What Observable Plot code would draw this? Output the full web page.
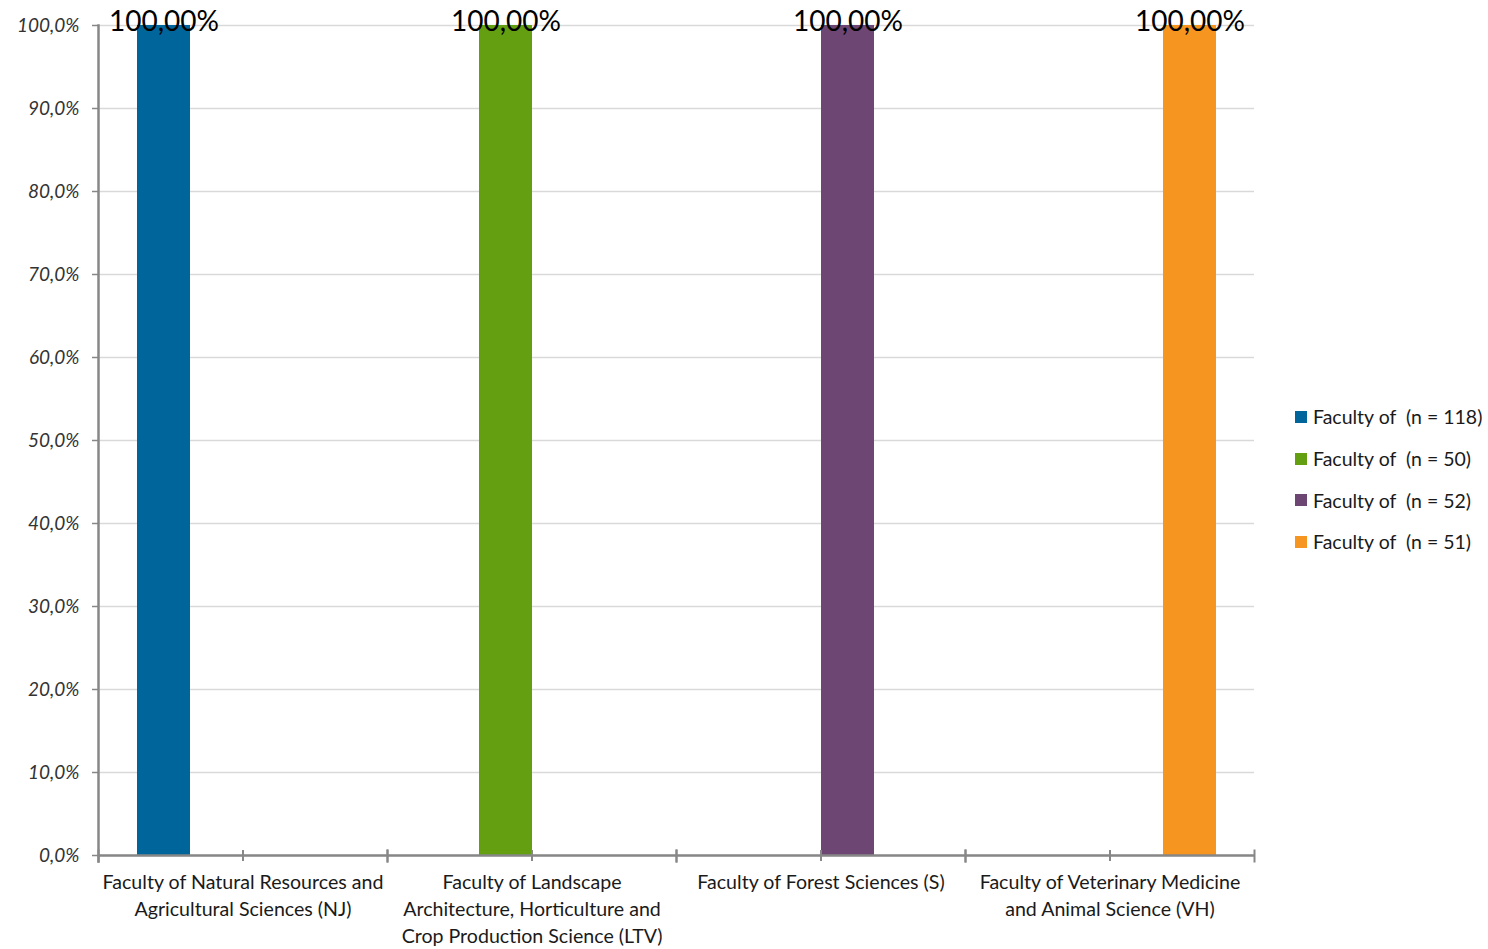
<!DOCTYPE html>
<html><head><meta charset="utf-8">
<script src="https://cdn.jsdelivr.net/npm/d3@7"></script>
<script src="https://cdn.jsdelivr.net/npm/@observablehq/plot@0.6"></script>
<style>
body{margin:0;background:#fff;font-family:Lato,sans-serif}
#wrap{position:relative;width:1488px;height:949px}
#legend{position:absolute;left:1295px;top:396px}
.item{display:flex;align-items:center;height:41.7px;font-size:19.5px;color:#1a1a1a;white-space:pre}
.sw{width:12px;height:12px;margin-right:6px;flex:none}
</style></head><body><div id="wrap"></div>
<script>
const categories = [
  "Faculty of Natural Resources and Agricultural Sciences (NJ)",
  "Faculty of Landscape Architecture, Horticulture and Crop Production Science (LTV)",
  "Faculty of Forest Sciences (S)",
  "Faculty of Veterinary Medicine and Animal Science (VH)"
];
const tickLabels = [
  "Faculty of Natural Resources and\nAgricultural Sciences (NJ)",
  "Faculty of Landscape\nArchitecture, Horticulture and\nCrop Production Science (LTV)",
  "Faculty of Forest Sciences (S)",
  "Faculty of Veterinary Medicine\nand Animal Science (VH)"
];
const seriesNames = ["Faculty of  (n = 118)", "Faculty of  (n = 50)", "Faculty of  (n = 52)", "Faculty of  (n = 51)"];
const seriesColors = ["#00659a", "#639f10", "#6d4673", "#f6951f"];
// values per series, one per category
const valuesS1 = [1.0, null, null, null];
const valuesS2 = [null, 1.0, null, null];
const valuesS3 = [null, null, 1.0, null];
const valuesS4 = [null, null, null, 1.0];
const yTicks = [0, 0.1, 0.2, 0.3, 0.4, 0.5, 0.6, 0.7, 0.8, 0.9, 1.0];

const seriesValues = [valuesS1, valuesS2, valuesS3, valuesS4];
const rows = [];
seriesValues.forEach((vals, j) => vals.forEach((v, i) => {
  if (v != null) rows.push({category: categories[i], series: seriesNames[j], value: v});
}));
const labelOf = new Map(categories.map((c, i) => [c, tickLabels[i]]));
const axisGray = "#878787";
const W = 1488, H = 949, mT = 25, mB = 94, mL = 98, mR = 234;
const plotH = H - mT - mB;

const chart = Plot.plot({
  width: W, height: H,
  marginTop: mT, marginBottom: mB, marginLeft: mL, marginRight: mR,
  style: {fontFamily: "Lato, sans-serif", background: "#fff", overflow: "visible"},
  fx: {domain: categories, padding: 0, label: null},
  x: {domain: seriesNames, paddingInner: 0, paddingOuter: 0.726, axis: null},
  y: {domain: [0, 1], label: null},
  color: {domain: seriesNames, range: seriesColors},
  marks: [
    Plot.gridY(yTicks, {stroke: "#d9d9d9", strokeOpacity: 1, strokeWidth: 1.5}),
    Plot.barY(rows, {fx: "category", x: "series", y: "value", fill: "series"}),
    Plot.ruleY([0], {stroke: axisGray, strokeWidth: 2.5}),
    Plot.frame({anchor: "left", facetAnchor: "left", stroke: axisGray, strokeWidth: 2.5, insetBottom: -6}),
    Plot.frame({anchor: "left", stroke: axisGray, strokeWidth: 2, insetTop: plotH - 5, insetBottom: -6}),
    Plot.frame({anchor: "right", stroke: axisGray, strokeWidth: 2, insetTop: plotH - 5, insetBottom: -6}),
    Plot.axisFx({anchor: "bottom", tickSize: 11, dy: -5, tickFormat: () => "", stroke: axisGray, strokeWidth: 2}),
    Plot.axisFx({anchor: "bottom", tickSize: 0, tickPadding: 15, tickFormat: d => labelOf.get(d), fontSize: 19.6, lineHeight: 1.36, fill: "#1a1a1a"}),
    Plot.axisY({ticks: yTicks, tickSize: 6, tickPadding: 13, stroke: axisGray, strokeWidth: 1.5,
      tickFormat: d => (d * 100).toFixed(1).replace(".", ",") + "%", fontSize: 19, fontStyle: "italic", fill: "#333"}),
    Plot.text(rows, {fx: "category", x: "series", y: "value", text: d => (d.value * 100).toFixed(2).replace(".", ",") + "%",
      fontSize: 28, lineAnchor: "middle", dy: -3, fill: "#000"})
  ]
});
const wrap = document.getElementById("wrap");
wrap.appendChild(chart);
const legend = document.createElement("div");
legend.id = "legend";
seriesNames.forEach((name, j) => {
  const it = document.createElement("div"); it.className = "item";
  const sw = document.createElement("span"); sw.className = "sw"; sw.style.background = seriesColors[j];
  const t = document.createElement("span"); t.textContent = name;
  it.appendChild(sw); it.appendChild(t); legend.appendChild(it);
});
wrap.appendChild(legend);
</script></body></html>
